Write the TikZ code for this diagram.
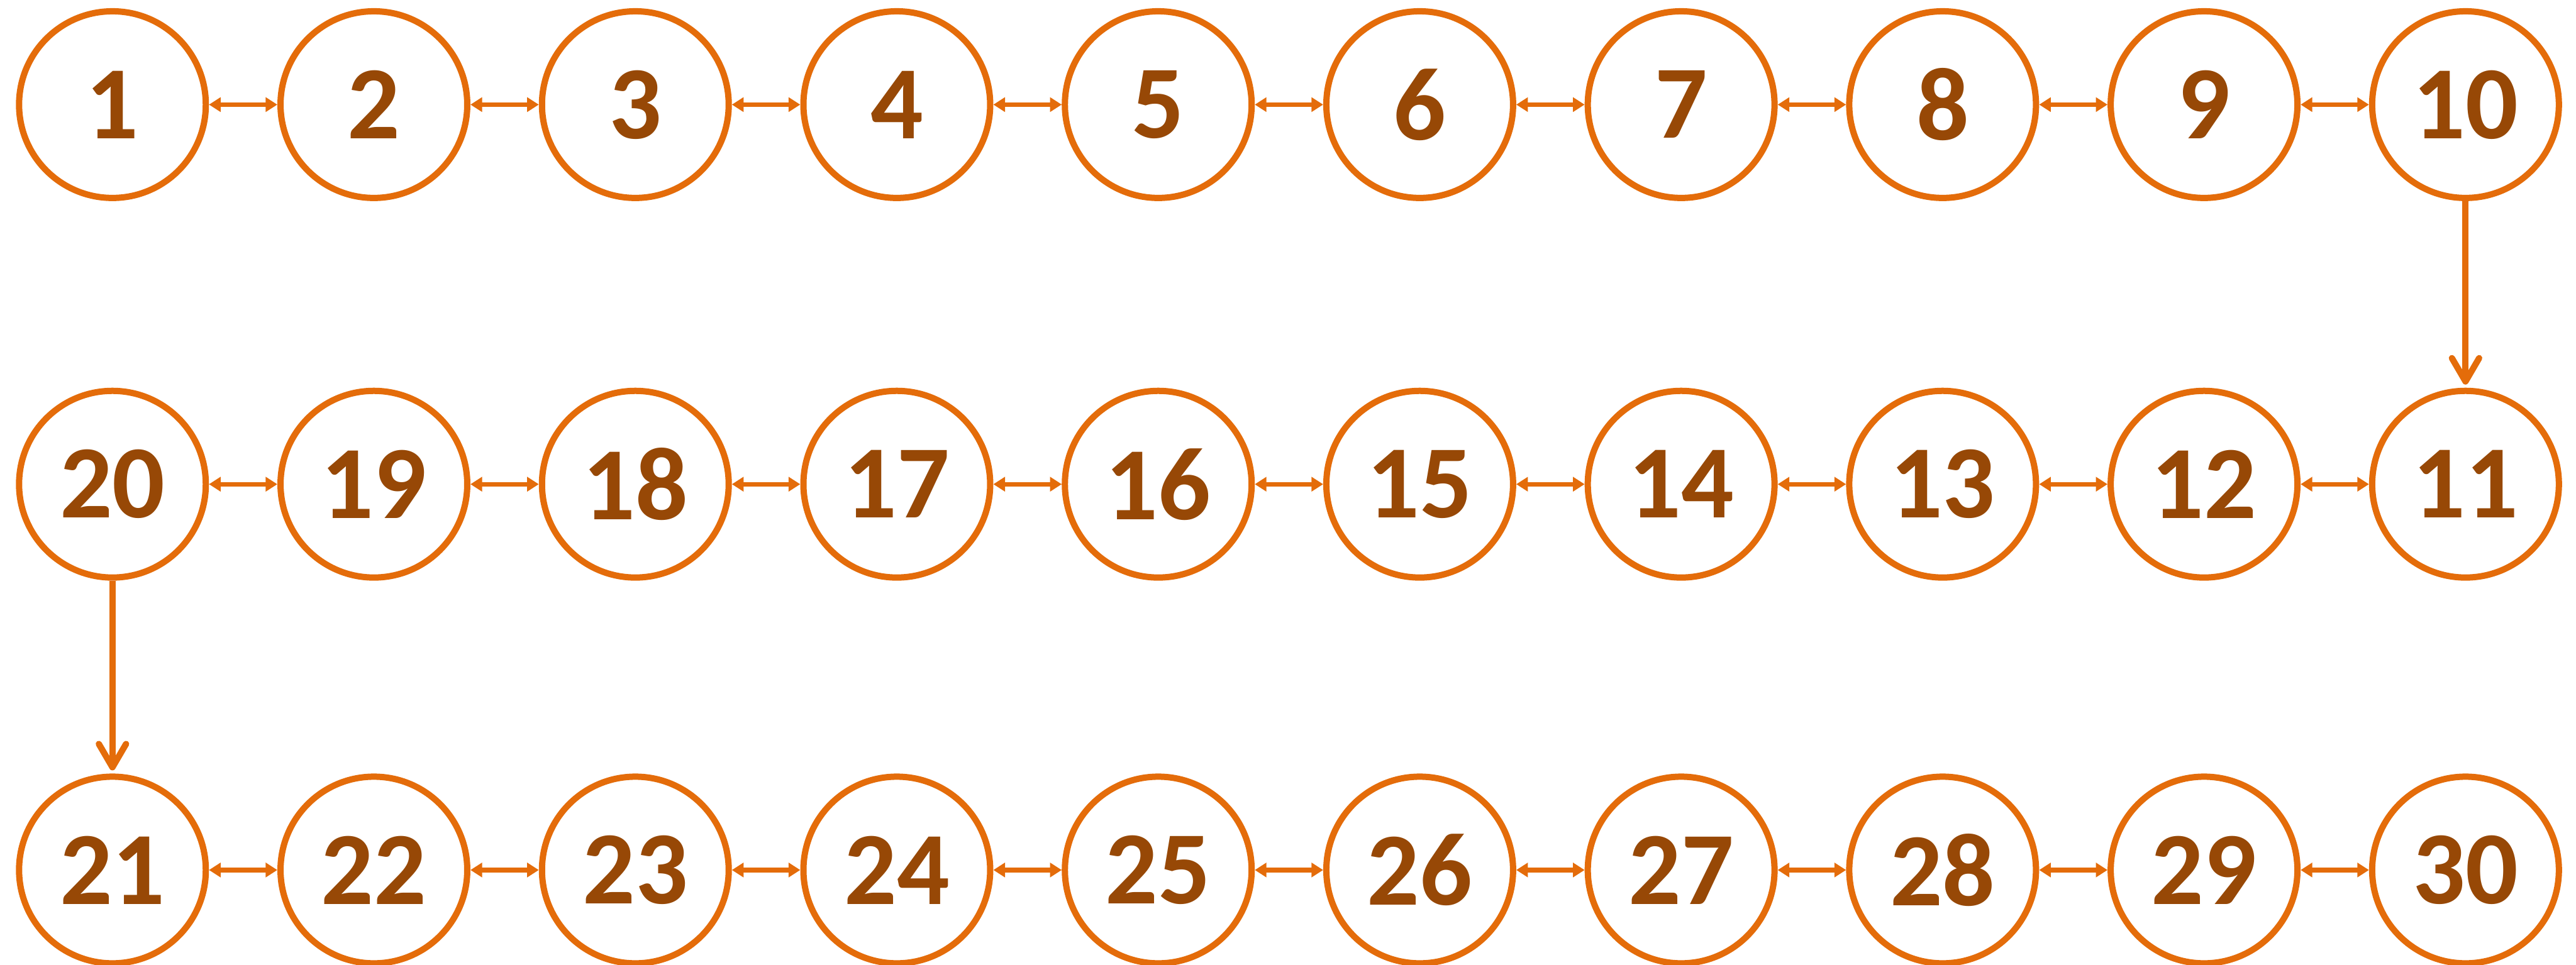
\documentclass[tikz,border=0pt]{standalone}
\usepackage{fontspec}
\setmainfont{Carlito}
\usetikzlibrary{arrows.meta}
\definecolor{ringorange}{RGB}{228,108,10}
\definecolor{numbrown}{RGB}{151,72,6}
\tikzset{
  station/.style={circle,draw=ringorange,line width=2.3pt,fill=white,
                  minimum size=2.4cm,inner sep=0pt,text=numbrown,
                  font=\fontsize{38}{38}\selectfont\bfseries},
  link/.style={{Triangle[length=1.5mm,width=1.8mm]}-{Triangle[length=1.5mm,width=1.8mm]},
               draw=ringorange,line width=1.7pt},
  turn/.style={-{Straight Barb[length=3mm,width=3.5mm,round]},
               draw=ringorange,line width=2.3pt,shorten >=0.4mm},
}
\begin{document}
\begin{tikzpicture}[x=1cm,y=1cm]
  \path[use as bounding box] (0,0) rectangle (33.105,12.405);

  % three rows, the middle one runs right to left
  \foreach \i in {1,...,10}{
    \node[station] (n\i) at ({1.445+3.36*(\i-1)},11.06) {\i};
  }
  \foreach \i in {11,...,20}{
    \node[station] (n\i) at ({1.445+3.36*(20-\i)},6.18) {\i};
  }
  \foreach \i in {21,...,30}{
    \node[station] (n\i) at ({1.445+3.36*(\i-21)},1.22) {\i};
  }

  \foreach \r in {0,10,20}{
    \foreach \k [evaluate=\k as \a using int(\r+\k),
                 evaluate=\k as \b using int(\r+\k+1)] in {1,...,9}{
      \draw[link] (n\a) -- (n\b);
    }
  }
  \draw[turn] (n10) -- (n11);
  \draw[turn] (n20) -- (n21);
\end{tikzpicture}
\end{document}
